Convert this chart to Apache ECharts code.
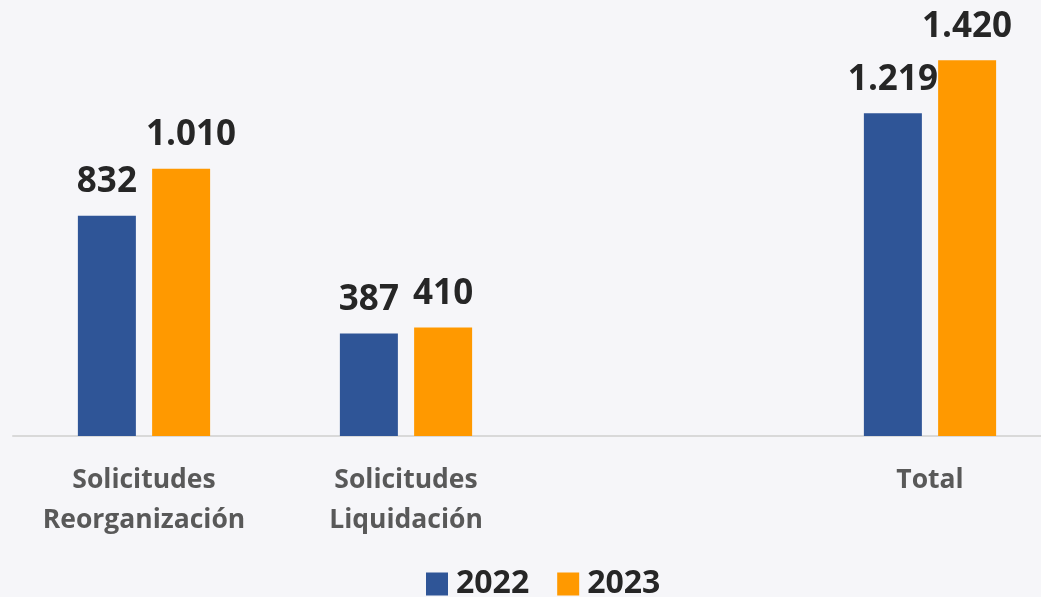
<!DOCTYPE html>
<html>
<head>
<meta charset="utf-8">
<script src="https://cdn.jsdelivr.net/npm/echarts@6/dist/echarts.min.js"></script>
<style>
  html, body { margin: 0; padding: 0; background: #f6f6f9; }
  #chart { width: 1041px; height: 597px; }
</style>
</head>
<body>
<div id="chart"></div>
<script>
// datos
const categories = ["Solicitudes\nReorganización", "Solicitudes\nLiquidación", "", "Total"];
const years = ["2022", "2023"];
const values2022 = [832, 387, "-", 1219];
const values2023 = [1010, 410, "-", 1420];
const labels2022 = ["832", "387", "", "1.219"];
const labels2023 = ["1.010", "410", "", "1.420"];

const chart = echarts.init(document.getElementById("chart"));

const mkData = (vals, labels, offsets) =>
  vals.map((v, i) => ({
    value: v,
    label: { formatter: labels[i], offset: offsets[i] || [0, 0] },
  }));

const labelStyle = {
  show: true,
  position: "top",
  distance: 16,
  fontFamily: "Open Sans",
  fontWeight: "bold",
  fontSize: 35,
  color: "#262626",
};

const option = {
  backgroundColor: "#f6f6f9",
  animation: false,
  grid: {
    left: 13,
    width: 1048,
    top: 12.5,
    height: 423.5,
    outerBoundsMode: "none",
    containLabel: false,
  },
  legend: {
    data: years,
    left: 421,
    top: 563,
    itemWidth: 22,
    itemHeight: 23,
    itemGap: 28,
    icon: "rect",
    textStyle: {
      fontFamily: "Open Sans",
      fontWeight: "bold",
      fontSize: 32,
      color: "#262626",
      padding: [0, 0, 0, 3],
    },
  },
  xAxis: {
    type: "category",
    data: categories,
    axisLine: { lineStyle: { color: "#d9d9d9", width: 2 } },
    axisTick: { show: false },
    axisLabel: {
      margin: 24,
      fontFamily: "Open Sans",
      fontWeight: "bold",
      fontSize: 26.5,
      lineHeight: 40,
      color: "#595959",
      interval: 0,
    },
  },
  yAxis: {
    type: "value",
    min: 0,
    max: 1600,
    show: false,
    splitLine: { show: false },
  },
  series: [
    {
      name: "2022",
      type: "bar",
      barWidth: 58,
      barGap: "28%",
      itemStyle: { color: "#2f5597" },
      label: labelStyle,
      data: mkData(values2022, labels2022, []),
    },
    {
      name: "2023",
      type: "bar",
      barWidth: 58,
      itemStyle: { color: "#ff9900" },
      label: labelStyle,
      data: mkData(values2023, labels2023, [[10, 0]]),
    },
  ],
};
chart.setOption(option);
</script>
</body>
</html>
